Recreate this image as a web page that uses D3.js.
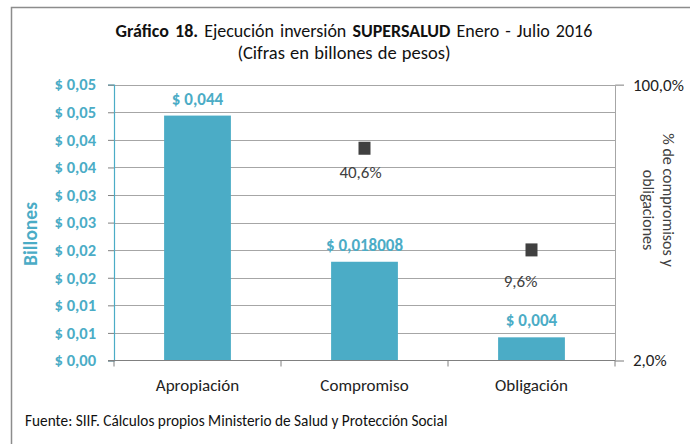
<!DOCTYPE html>
<html>
<head>
<meta charset="utf-8">
<script src="https://cdn.jsdelivr.net/npm/d3@7.9.0/dist/d3.min.js"></script>
<style>
  body { margin: 0; background: #fff; }
  svg { display: block; font-family: Carlito, Calibri, Lato, "Open Sans", sans-serif; }
</style>
</head>
<body>
<svg id="chart" width="690" height="444"></svg>
<script>
// data
const categories = ["Apropiación", "Compromiso", "Obligación"];
const amounts = [0.0444, 0.0179, 0.0042];            // billones de pesos
const amountLabels = ["$ 0,044", "$ 0,018008", "$ 0,004"];
const pctCategories = ["Compromiso", "Obligación"];
const pctValues = [0.406, 0.096];
const pctLabels = ["40,6%", "9,6%"];
const leftTicks = [0, 0.005, 0.01, 0.015, 0.02, 0.025, 0.03, 0.035, 0.04, 0.045, 0.05];
const rightTicks = [0.02, 1];

const svg = d3.select("#chart");
const blue = "#4bacc6";
const gridGray = "#a6a6a6";
const textDark = "#404040";

const plotLeft = 114, plotRight = 615, plotTop = 84.7, plotBottom = 360.5;

// outer frame (only top and left edges show)
svg.append("path")
  .attr("d", "M11.5,444V7.5H690")
  .attr("fill", "none")
  .attr("stroke", "#8c8c8c")
  .attr("stroke-width", 1.5);

const x = d3.scaleBand().domain(categories).range([plotLeft, plotRight])
  .paddingInner(0.6).paddingOuter(0.3);
const y = d3.scaleLinear().domain([0, 0.05]).range([plotBottom, plotTop]);
const yr = d3.scaleLog().domain([0.02, 1]).range([plotBottom, plotTop]);

// excel rounds half up, so 0,045 shows as 0,05
const fmtMoney = v => "$ " + (Math.round(v * 100 + 1e-9) / 100).toFixed(2).replace(".", ",");
const fmtPct = v => d3.format(".1f")(v * 100).replace(".", ",") + "%";

// gridlines
svg.append("g")
  .selectAll("line")
  .data(leftTicks.filter(d => d > 0))
  .join("line")
  .attr("x1", plotLeft).attr("x2", plotRight)
  .attr("y1", d => Math.round(y(d)) + 0.5)
  .attr("y2", d => Math.round(y(d)) + 0.5)
  .attr("stroke", gridGray);

// bars
svg.append("g")
  .selectAll("rect")
  .data(amounts)
  .join("rect")
  .attr("x", (d, i) => x(categories[i]))
  .attr("width", x.bandwidth())
  .attr("y", d => y(d))
  .attr("height", d => plotBottom - y(d))
  .attr("fill", blue);

// bar labels
svg.append("g")
  .selectAll("text")
  .data(amounts)
  .join("text")
  .attr("x", (d, i) => x(categories[i]) + x.bandwidth() / 2)
  .attr("y", d => y(d) - 11)
  .attr("text-anchor", "middle")
  .attr("font-size", 17)
  .attr("font-weight", "bold")
  .attr("fill", blue)
  .text((d, i) => amountLabels[i]);

// left axis
const gl = svg.append("g").attr("transform", `translate(${plotLeft},0)`)
  .call(d3.axisLeft(y).tickValues(leftTicks).tickFormat(fmtMoney).tickSize(6).tickPadding(12));
gl.attr("font-family", null);
gl.select(".domain").attr("stroke", blue).attr("stroke-width", 1.2);
gl.selectAll(".tick line").attr("stroke", "#808080");
gl.selectAll(".tick text")
  .attr("fill", blue)
  .attr("font-size", 16.5)
  .attr("font-weight", "bold");

// right axis
const gr = svg.append("g").attr("transform", `translate(${plotRight},0)`)
  .call(d3.axisRight(yr).tickValues(rightTicks).tickFormat(fmtPct).tickSize(9).tickPadding(9));
gr.attr("font-family", null);
gr.select(".domain").attr("stroke", gridGray);
gr.selectAll(".tick line").attr("stroke", gridGray);
gr.selectAll(".tick text")
  .attr("fill", "#222")
  .attr("font-size", 17);

// bottom axis
const gb = svg.append("g").attr("transform", `translate(0,${plotBottom})`);
gb.append("line")
  .attr("x1", plotLeft - 6).attr("x2", plotRight)
  .attr("stroke", "#808080");
gb.selectAll(".sep")
  .data(d3.range(categories.length + 1))
  .join("line")
  .attr("x1", i => plotLeft + i * x.step())
  .attr("x2", i => plotLeft + i * x.step())
  .attr("y1", 0).attr("y2", 6)
  .attr("stroke", "#808080");
gb.selectAll(".cat")
  .data(categories)
  .join("text")
  .attr("x", d => x(d) + x.bandwidth() / 2)
  .attr("y", 30)
  .attr("text-anchor", "middle")
  .attr("font-size", 17)
  .attr("fill", "#222")
  .text(d => d);

// percentage markers
const pctOffsets = [-4, -11];
svg.append("g")
  .selectAll("rect")
  .data(pctValues)
  .join("rect")
  .attr("x", (d, i) => x(pctCategories[i]) + x.bandwidth() / 2 - 6)
  .attr("y", d => yr(d) - 6.5)
  .attr("width", 12)
  .attr("height", 13)
  .attr("fill", textDark);
svg.append("g")
  .selectAll("text")
  .data(pctValues)
  .join("text")
  .attr("x", (d, i) => x(pctCategories[i]) + x.bandwidth() / 2 + pctOffsets[i])
  .attr("y", (d, i) => yr(d) + (i === 0 ? 30 : 37))
  .attr("text-anchor", "middle")
  .attr("font-size", 17)
  .attr("fill", textDark)
  .text((d, i) => pctLabels[i]);

// axis titles
svg.append("text")
  .attr("transform", "translate(37,234) rotate(-90)")
  .attr("text-anchor", "middle")
  .attr("font-size", 19.5)
  .attr("font-weight", "bold")
  .attr("fill", blue)
  .text("Billones");

const rt = svg.append("text")
  .attr("transform", "translate(663,200) rotate(90)")
  .attr("text-anchor", "middle")
  .attr("font-size", 16)
  .attr("fill", textDark);
rt.append("tspan").attr("x", 0).attr("y", 0).text("% de compromisos y");
rt.append("tspan").attr("x", 10).attr("y", 20).text("obligaciones");

// title
const t = svg.append("text")
  .attr("x", 354).attr("y", 37)
  .attr("text-anchor", "middle")
  .attr("font-size", 18)
  .attr("word-spacing", 2)
  .attr("fill", "#111");
t.append("tspan").attr("font-weight", "bold").text("Gráfico 18.");
t.append("tspan").text(" Ejecución inversión ");
t.append("tspan").attr("font-weight", "bold").text("SUPERSALUD");
t.append("tspan").text("  Enero - Julio 2016");
svg.append("text")
  .attr("x", 344).attr("y", 59)
  .attr("text-anchor", "middle")
  .attr("font-size", 18.5)
  .attr("word-spacing", 1)
  .attr("fill", "#111")
  .text("(Cifras en billones de pesos)");

// source note
svg.append("text")
  .attr("x", 25).attr("y", 426)
  .attr("font-size", 15.3)
  .attr("fill", "#111")
  .text("Fuente: SIIF. Cálculos propios Ministerio de Salud y Protección Social");
</script>
</body>
</html>
